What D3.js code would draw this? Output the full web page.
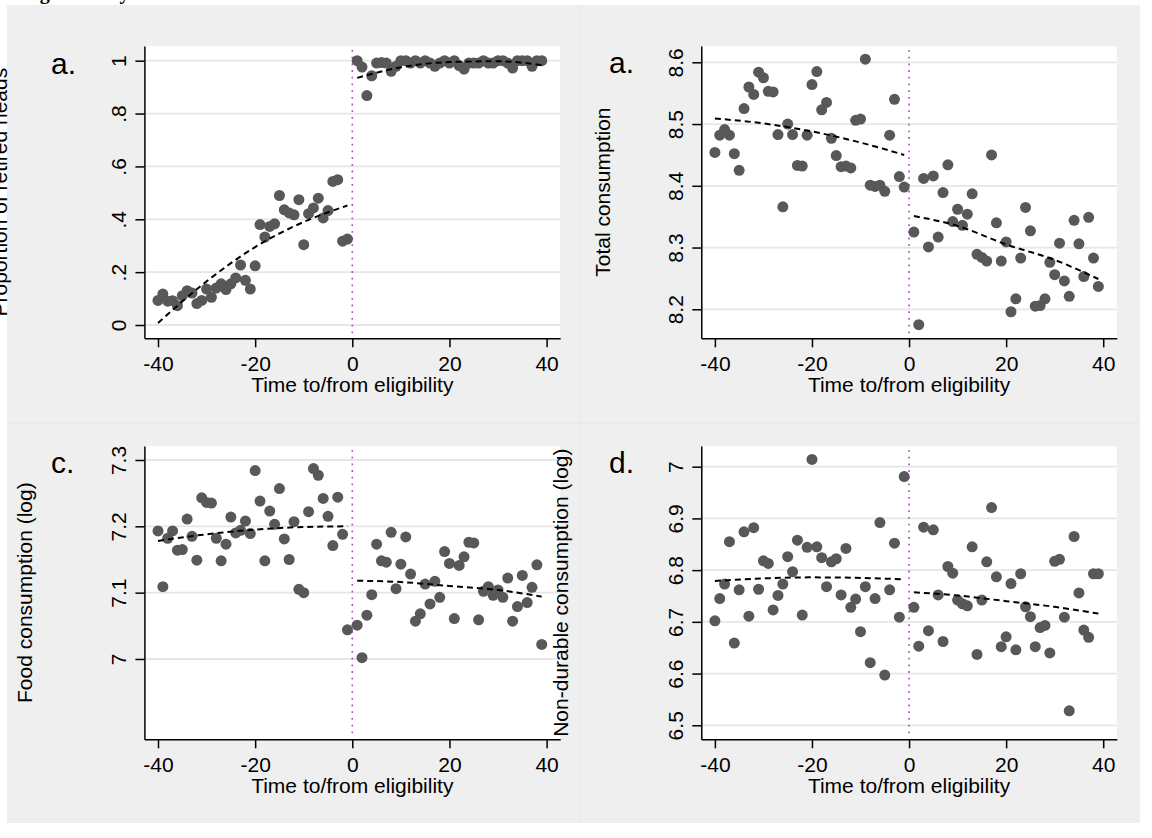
<!DOCTYPE html>
<html>
<head>
<meta charset="utf-8">
<script src="https://cdn.jsdelivr.net/npm/d3@7"></script>
<style>
  body { margin: 0; background: #ffffff; }
  #chart svg { display: block; }
  svg text { font-family: "Liberation Sans", Arial, sans-serif; }
</style>
</head>
<body>
<div id="chart"></div>
<script>
// ---- data ----
var timeBefore = [-40,-39,-38,-37,-36,-35,-34,-33,-32,-31,-30,-29,-28,-27,-26,-25,-24,-23,-22,-21,
                  -20,-19,-18,-17,-16,-15,-14,-13,-12,-11,-10,-9,-8,-7,-6,-5,-4,-3,-2,-1];
var timeAfter = [1,2,3,4,5,6,7,8,9,10,11,12,13,14,15,16,17,18,19,20,
                 21,22,23,24,25,26,27,28,29,30,31,32,33,34,35,36,37,38,39];

var retiredBefore = [0.093,0.117,0.090,0.092,0.073,0.111,0.130,0.121,0.081,0.093,0.136,0.105,0.140,0.156,0.134,0.156,0.178,0.227,0.169,0.136,
                     0.224,0.380,0.333,0.373,0.383,0.490,0.436,0.424,0.417,0.474,0.304,0.421,0.443,0.480,0.405,0.433,0.543,0.550,0.317,0.325];
var retiredAfter = [1.0,0.976,0.868,0.943,0.991,0.993,0.991,0.96,0.979,1.0,1.0,0.991,1.0,0.991,1.0,0.991,0.979,0.991,1.0,0.991,
                    1.0,0.981,0.968,0.991,0.991,0.991,1.0,0.991,0.991,1.0,1.0,0.991,0.972,1.0,1.0,1.0,0.979,1.0,1.0];

var totalBefore = [8.454,8.482,8.491,8.482,8.452,8.425,8.525,8.560,8.548,8.584,8.575,8.553,8.552,8.483,8.366,8.500,8.483,8.433,8.432,8.482,
                   8.564,8.585,8.523,8.535,8.477,8.449,8.431,8.432,8.429,8.506,8.508,8.605,8.401,8.399,8.401,8.391,8.482,8.540,8.415,8.398];
var totalAfter = [8.325,8.175,8.412,8.301,8.416,8.317,8.389,8.434,8.342,8.362,8.336,8.354,8.387,8.289,8.284,8.278,8.450,8.340,8.278,8.309,
                  8.196,8.217,8.283,8.365,8.327,8.205,8.206,8.217,8.276,8.256,8.307,8.246,8.221,8.344,8.306,8.253,8.349,8.283,8.237];

var foodBefore = [7.193,7.109,7.182,7.193,7.164,7.165,7.211,7.185,7.149,7.243,7.236,7.235,7.182,7.148,7.173,7.214,7.190,7.194,7.208,7.189,
                  7.284,7.238,7.148,7.223,7.203,7.257,7.181,7.150,7.207,7.105,7.100,7.222,7.287,7.277,7.242,7.215,7.171,7.244,7.188,7.044];
var foodAfter = [7.051,7.002,7.066,7.097,7.173,7.148,7.146,7.191,7.106,7.143,7.184,7.128,7.057,7.068,7.113,7.083,7.117,7.093,7.162,7.144,
                 7.061,7.141,7.154,7.176,7.175,7.059,7.102,7.109,7.096,7.104,7.093,7.122,7.057,7.079,7.126,7.085,7.108,7.142,7.022];

var nondurBefore = [6.702,6.745,6.773,6.855,6.659,6.762,6.874,6.711,6.882,6.763,6.818,6.813,6.723,6.751,6.773,6.826,6.797,6.858,6.713,6.844,
                    7.014,6.845,6.824,6.768,6.816,6.822,6.752,6.842,6.728,6.744,6.681,6.768,6.621,6.745,6.892,6.597,6.762,6.852,6.709,6.981];
var nondurAfter = [6.728,6.653,6.883,6.683,6.878,6.752,6.662,6.807,6.794,6.742,6.735,6.731,6.845,6.637,6.742,6.816,6.921,6.787,6.652,6.671,
                   6.774,6.646,6.793,6.729,6.710,6.652,6.689,6.693,6.640,6.817,6.821,6.709,6.528,6.865,6.756,6.684,6.670,6.793,6.793];

// fitted (dashed) lines, read at a few points
var fitXBefore = [-40,-30,-20,-10,-1];
var fitXAfter = [1,10,20,30,39];
var retiredFitBefore = [0.008,0.165,0.295,0.390,0.452];
var retiredFitAfter = [0.935,0.975,0.995,0.998,0.983];
var totalFitBefore = [8.509,8.501,8.488,8.470,8.450];
var totalFitAfter = [8.351,8.335,8.305,8.280,8.249];
var foodFitBefore = [7.178,7.188,7.195,7.199,7.200];
var foodFitAfter = [7.118,7.116,7.110,7.104,7.094];
var nondurFitBefore = [6.779,6.784,6.786,6.785,6.782];
var nondurFitAfter = [6.757,6.751,6.740,6.729,6.716];

// ticks
var xTicks = [-40,-20,0,20,40];
var xTickLabels = ["-40","-20","0","20","40"];
var retiredTicks = [0,0.2,0.4,0.6,0.8,1];
var retiredTickLabels = ["0",".2",".4",".6",".8","1"];
var totalTicks = [8.2,8.3,8.4,8.5,8.6];
var totalTickLabels = ["8.2","8.3","8.4","8.5","8.6"];
var foodTicks = [7,7.1,7.2,7.3];
var foodTickLabels = ["7","7.1","7.2","7.3"];
var nondurTicks = [6.5,6.6,6.7,6.8,6.9,7];
var nondurTickLabels = ["6.5","6.6","6.7","6.8","6.9","7"];

// ---- svg ----
var svgWidth = 1152;
var svgHeight = 838;

var svg = d3.select("#chart")
  .append("svg")
  .attr("width", svgWidth)
  .attr("height", svgHeight);

// figure caption (cut off at the top in the source, only descenders show)
svg.append("text")
  .attr("x", 22)
  .attr("y", -1)
  .style("font-family", "'Liberation Serif', 'Times New Roman', serif")
  .style("font-weight", "bold")
  .style("font-size", "20px")
  .text("Figure 3: Dynamics at the threshold");

// graph background
svg.append("rect")
  .attr("x", 7).attr("y", 5)
  .attr("width", 1133).attr("height", 818)
  .attr("fill", "#efefef");
svg.append("line")
  .attr("x1", 580).attr("x2", 580).attr("y1", 5).attr("y2", 823)
  .attr("stroke", "#e7e7e7").attr("stroke-width", 1);
svg.append("line")
  .attr("x1", 7).attr("x2", 1140).attr("y1", 423).attr("y2", 423)
  .attr("stroke", "#e7e7e7").attr("stroke-width", 1);

var xDomain = [-42.8, 42.8];

var panels = [
  {label: "a.", labelX: 51, labelY: 74, title: "Proportion of retired heads", titleX: 7,
   left: 144.4, right: 560.2, top: 46, bottom: 338.3, yDomain: [-0.0503, 1.0556],
   ticks: retiredTicks, tickLabels: retiredTickLabels,
   before: retiredBefore, after: retiredAfter, fitBefore: retiredFitBefore, fitAfter: retiredFitAfter},
  {label: "a.", labelX: 609, labelY: 73, title: "Total consumption", titleX: 610,
   left: 701.3, right: 1116.8, top: 46, bottom: 338.3, yDomain: [8.1530, 8.6264],
   ticks: totalTicks, tickLabels: totalTickLabels,
   before: totalBefore, after: totalAfter, fitBefore: totalFitBefore, fitAfter: totalFitAfter},
  {label: "c.", labelX: 51, labelY: 473, title: "Food consumption (log)", titleX: 32,
   left: 144.4, right: 560.2, top: 446, bottom: 739.3, yDomain: [6.8789, 7.3211],
   ticks: foodTicks, tickLabels: foodTickLabels,
   before: foodBefore, after: foodAfter, fitBefore: foodFitBefore, fitAfter: foodFitAfter},
  {label: "d.", labelX: 609, labelY: 473, title: "Non-durable consumption (log)", titleX: 568,
   left: 701.3, right: 1116.8, top: 446, bottom: 739.3, yDomain: [6.4729, 7.0400],
   ticks: nondurTicks, tickLabels: nondurTickLabels,
   before: nondurBefore, after: nondurAfter, fitBefore: nondurFitBefore, fitAfter: nondurFitAfter}
];

function drawPanel(p) {
  var g = svg.append("g");

  var xScale = d3.scaleLinear().domain(xDomain).range([p.left, p.right]);
  var yScale = d3.scaleLinear().domain(p.yDomain).range([p.bottom, p.top]);

  // plot region
  g.append("rect")
    .attr("x", p.left).attr("y", p.top)
    .attr("width", p.right - p.left).attr("height", p.bottom - p.top)
    .attr("fill", "#ffffff");

  // gridlines
  g.append("g").selectAll("line")
    .data(p.ticks)
    .join("line")
    .attr("x1", p.left).attr("x2", p.right)
    .attr("y1", d => yScale(d)).attr("y2", d => yScale(d))
    .attr("stroke", "#e6e6e6")
    .attr("stroke-width", 1.8);

  // eligibility line
  g.append("line")
    .attr("x1", xScale(0)).attr("x2", xScale(0))
    .attr("y1", p.top + 4).attr("y2", p.bottom - 4)
    .attr("stroke", "#b04cc4")
    .attr("stroke-width", 1.6)
    .attr("stroke-dasharray", "1.8,4.9");

  // points
  var pts = timeBefore.map((t, i) => [t, p.before[i]])
    .concat(timeAfter.map((t, i) => [t, p.after[i]]));
  g.append("g").selectAll("circle")
    .data(pts)
    .join("circle")
    .attr("cx", d => xScale(d[0]))
    .attr("cy", d => yScale(d[1]))
    .attr("r", 5.5)
    .attr("fill", "#585858");

  // fitted lines
  var line = d3.line()
    .x(d => xScale(d[0]))
    .y(d => yScale(d[1]))
    .curve(d3.curveMonotoneX);
  [fitXBefore.map((t, i) => [t, p.fitBefore[i]]), fitXAfter.map((t, i) => [t, p.fitAfter[i]])]
    .forEach(function(seg) {
      g.append("path")
        .attr("d", line(seg))
        .attr("fill", "none")
        .attr("stroke", "#000")
        .attr("stroke-width", 2)
        .attr("stroke-dasharray", "6,4");
    });

  // x axis
  var xAxis = g.append("g")
    .attr("transform", `translate(0, ${p.bottom})`)
    .call(d3.axisBottom(xScale).tickValues(xTicks).tickSize(9).tickSizeOuter(0)
      .tickFormat((d, i) => xTickLabels[i]));
  xAxis.selectAll("text")
    .attr("y", 33).attr("dy", 0)
    .attr("fill", "#000")
    .style("font-size", "21px");

  // y axis, labels turned upright like Stata
  var yAxis = g.append("g")
    .attr("transform", `translate(${p.left}, 0)`)
    .call(d3.axisLeft(yScale).tickValues(p.ticks).tickSize(9).tickSizeOuter(0)
      .tickFormat((d, i) => p.tickLabels[i]));
  yAxis.selectAll("text")
    .attr("transform", "rotate(-90)")
    .attr("x", 0).attr("y", -18).attr("dy", 0)
    .attr("text-anchor", "middle")
    .attr("fill", "#000")
    .style("font-size", "21px");

  svg.selectAll(".domain").attr("stroke", "#000").attr("stroke-width", 1.5);
  svg.selectAll(".tick line").attr("stroke", "#000").attr("stroke-width", 1.5);

  // titles
  g.append("text")
    .attr("x", (p.left + p.right) / 2)
    .attr("y", p.bottom + 54)
    .attr("text-anchor", "middle")
    .style("font-size", "21px")
    .text("Time to/from eligibility");

  g.append("text")
    .attr("transform", `translate(${p.titleX}, ${(p.top + p.bottom) / 2}) rotate(-90)`)
    .attr("text-anchor", "middle")
    .style("font-size", "21px")
    .text(p.title);

  g.append("text")
    .attr("x", p.labelX)
    .attr("y", p.labelY)
    .style("font-size", "30px")
    .text(p.label);
}

panels.forEach(drawPanel);
</script>
</body>
</html>
